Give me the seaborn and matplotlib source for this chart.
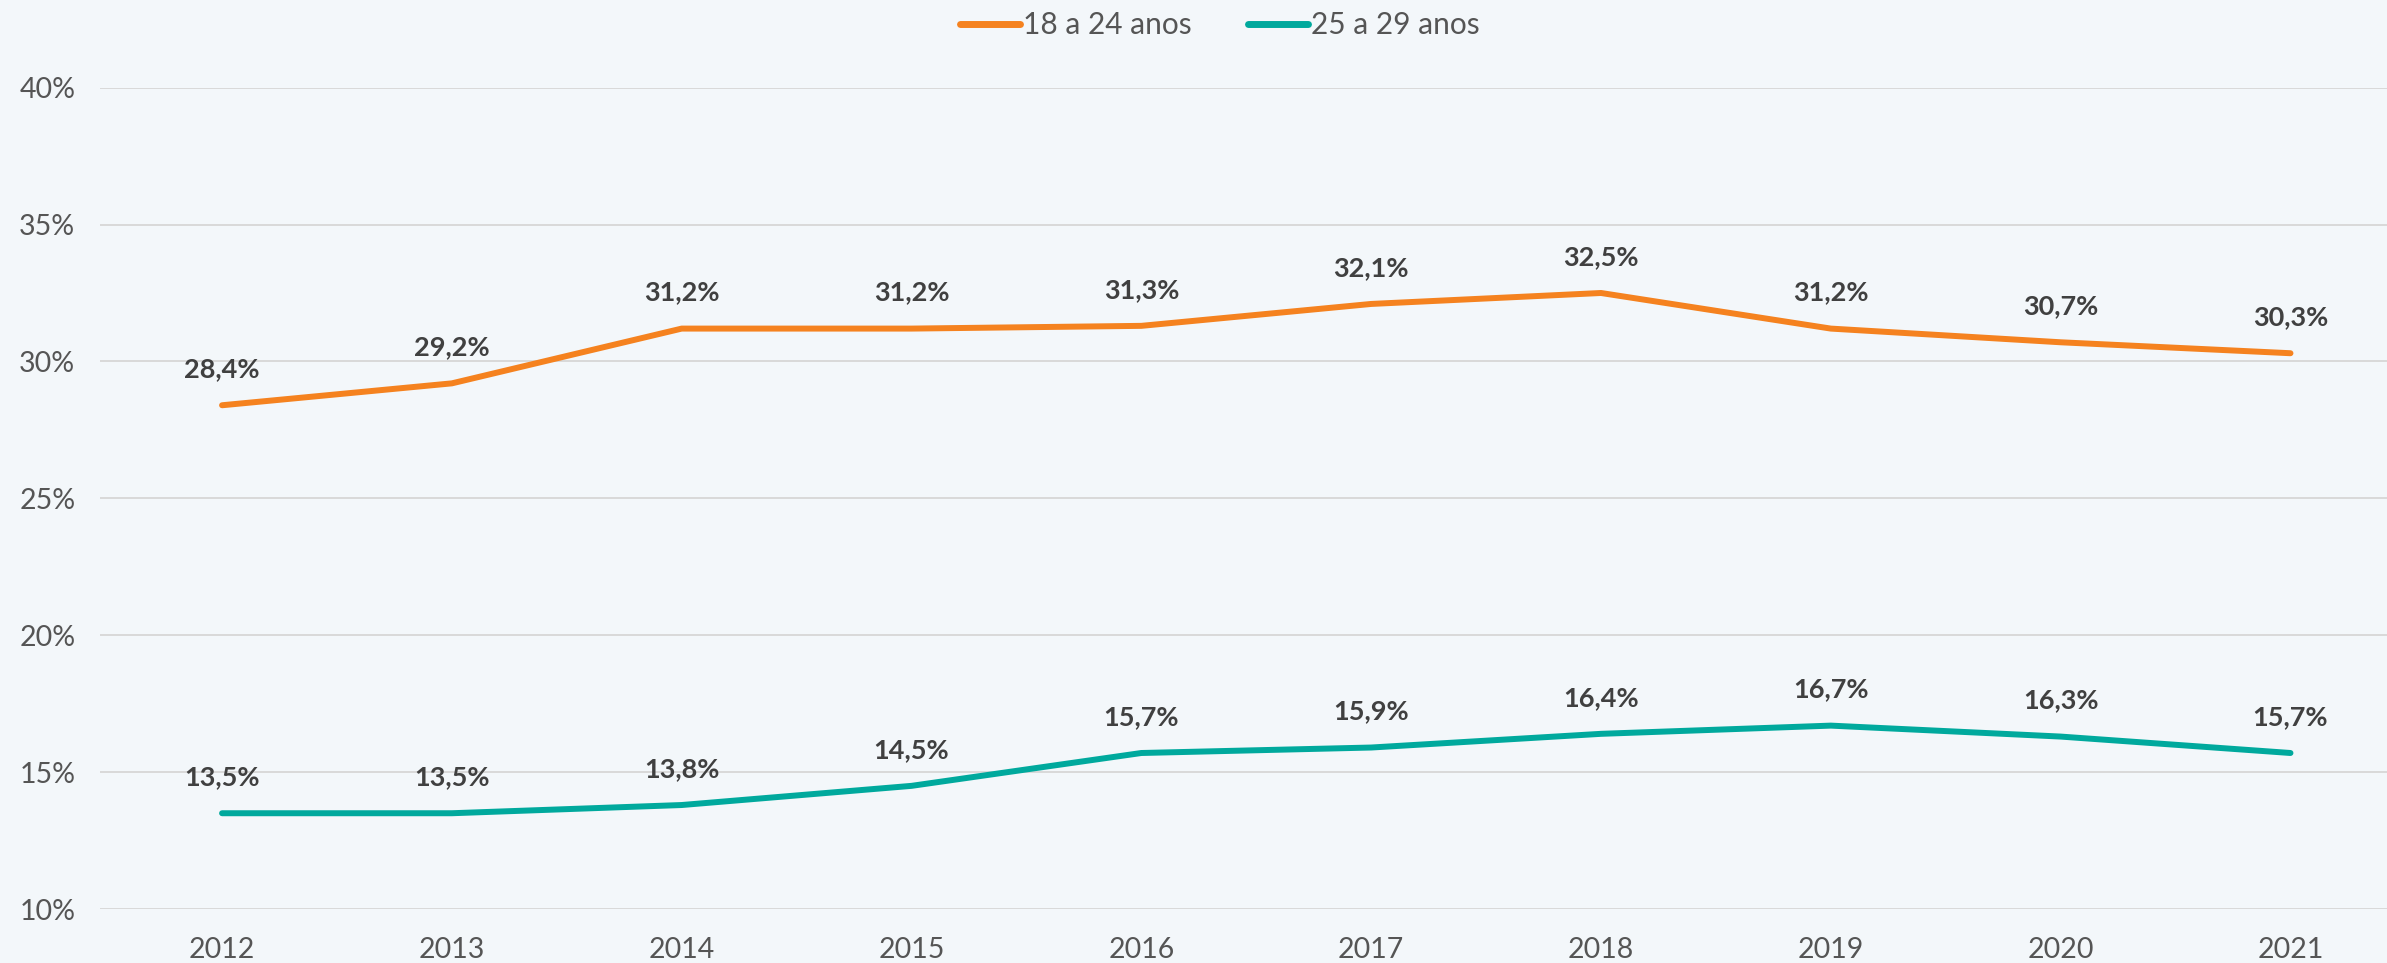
import pandas as pd
import matplotlib
matplotlib.use("Agg")
import matplotlib.pyplot as plt
import seaborn as sns

anos = ["2012", "2013", "2014", "2015", "2016", "2017", "2018", "2019", "2020", "2021"]
jovens_18_24 = [28.4, 29.2, 31.2, 31.2, 31.3, 32.1, 32.5, 31.2, 30.7, 30.3]
jovens_25_29 = [13.5, 13.5, 13.8, 14.5, 15.7, 15.9, 16.4, 16.7, 16.3, 15.7]
series = ["18 a 24 anos", "25 a 29 anos"]
cores = ["#F5821F", "#00A99D"]
y_ticks = [10, 15, 20, 25, 30, 35, 40]

df = pd.DataFrame({
    "ano": list(range(len(anos))) * 2,
    "valor": jovens_18_24 + jovens_25_29,
    "faixa": [series[0]] * len(anos) + [series[1]] * len(anos),
})

sns.set_style("white")
plt.rcParams["font.family"] = ["Lato", "DejaVu Sans"]

bg = "#F3F7FA"
fig = plt.figure(figsize=(23.87, 9.63), dpi=100, facecolor=bg)
ax = fig.add_axes([0.042, 0.056, 0.958, 0.853], facecolor=bg)

sns.lineplot(data=df, x="ano", y="valor", hue="faixa", palette=cores,
             linewidth=4.3, ax=ax, zorder=3, solid_capstyle="round")

# rotulos
for vals in [jovens_18_24, jovens_25_29]:
    for i, v in enumerate(vals):
        ax.annotate(f"{v:.1f}%".replace(".", ","), (i, v), xytext=(0, 26),
                    textcoords="offset points", ha="center", va="center",
                    fontsize=19.5, fontweight="bold", color="#404040", zorder=4)

ax.set_ylim(10, 40)
ax.set_xlim(-0.53, 9.42)
ax.set_yticks(y_ticks)
ax.set_yticklabels([f"{t}%" for t in y_ticks])
ax.set_xticks(range(len(anos)))
ax.set_xticklabels(anos)
ax.tick_params(axis="y", length=0, pad=18, labelsize=20.5, labelcolor="#555555")
ax.tick_params(axis="x", length=0, pad=20, labelsize=20.5, labelcolor="#555555")
ax.grid(axis="y", color="#D9D9D9", linewidth=1.4, zorder=0)
ax.grid(axis="x", visible=False)
for s in ax.spines.values():
    s.set_visible(False)
ax.set_xlabel("")
ax.set_ylabel("")

leg = ax.legend(loc="center", bbox_to_anchor=(0.511, 0.974), bbox_transform=fig.transFigure,
                ncol=2, frameon=False, fontsize=21.5, handlelength=2.0, handletextpad=0.1,
                columnspacing=1.9, labelcolor="#555555")
for h in leg.get_lines():
    h.set_linewidth(5)

fig.savefig("out.png", dpi=100, facecolor=bg)
